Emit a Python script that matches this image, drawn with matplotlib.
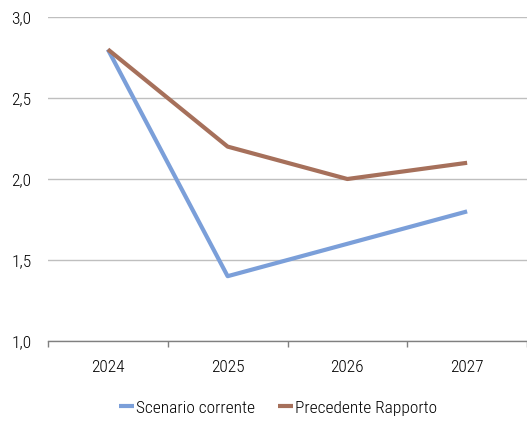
import matplotlib
matplotlib.use("Agg")
import matplotlib.pyplot as plt
from matplotlib import font_manager

years = ["2024", "2025", "2026", "2027"]
scenario_corrente = [2.8, 1.4, 1.6, 1.8]
precedente_rapporto = [2.8, 2.2, 2.0, 2.1]
yticks = [1.0, 1.5, 2.0, 2.5, 3.0]
ytick_labels = ["1,0", "1,5", "2,0", "2,5", "3,0"]

names = {f.name for f in font_manager.fontManager.ttflist}
fam = "Liberation Sans"
fs = 12.5
for cand in ["Liberation Sans Narrow", "Arial Narrow", "Roboto Condensed", "Open Sans Condensed", "DejaVu Sans Condensed"]:
    if cand in names:
        fam = cand
        fs = 12.5
        break
plt.rcParams["font.family"] = [fam, "DejaVu Sans"]
plt.rcParams["font.weight"] = "light"

fig = plt.figure(figsize=(5.27, 4.25), dpi=100)
ax = fig.add_axes([48/527, 1-341/425, 1-48/527, (341-17)/425])

x = list(range(len(years)))
ax.plot(x, scenario_corrente, color="#7B9FD9", lw=3.0, label="Scenario corrente", solid_capstyle="butt")
ax.plot(x, precedente_rapporto, color="#A6705B", lw=3.0, label="Precedente Rapporto", solid_capstyle="butt")

ax.set_xlim(-0.5, len(years)-0.5)
ax.set_ylim(1.0, 3.0)
ax.set_yticks(yticks)
ax.set_yticklabels(ytick_labels)
ax.set_xticks(x)
ax.set_xticklabels(years)
ax.set_xticks([i - 0.5 for i in range(len(years)+1)], minor=True)
ax.tick_params(axis="x", which="major", length=0, pad=14, labelsize=fs, colors="#000000")
ax.tick_params(axis="x", which="minor", length=4, color="#808080", width=1)
ax.tick_params(axis="y", length=0, pad=12, labelsize=fs)
ax.yaxis.grid(True, color="#BFBFBF", lw=1)
ax.set_axisbelow(True)
for s in ["top", "right", "left"]:
    ax.spines[s].set_visible(False)
ax.spines["bottom"].set_color("#808080")
ax.spines["bottom"].set_linewidth(1)

leg = fig.legend(loc="center", bbox_to_anchor=(278/527, 1-408/425), ncol=2, frameon=False,
                 fontsize=fs, handlelength=0.9, handletextpad=0.1, columnspacing=1.3)

fig.savefig("out.png", dpi=100)
